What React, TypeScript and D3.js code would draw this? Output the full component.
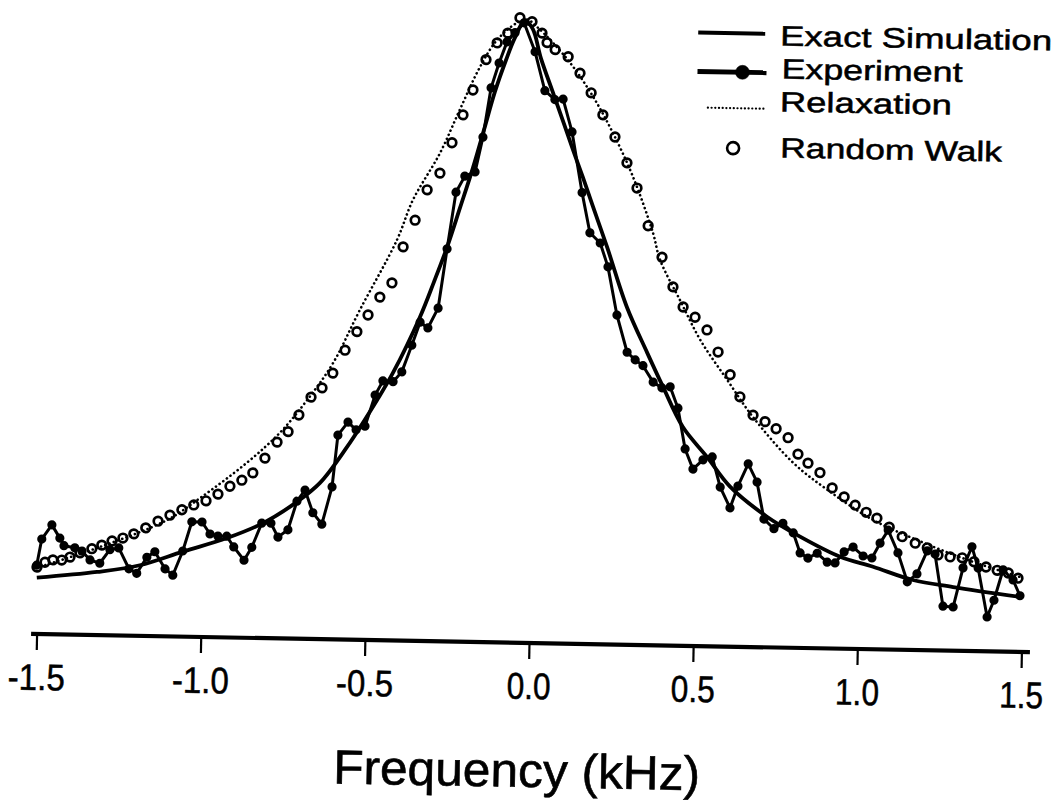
import React from 'react';
import * as d3 from 'd3';

type P = [number, number];

const tickValues = [-1.5, -1.0, -0.5, 0.0, 0.5, 1.0, 1.5];
const tickLabels = ['-1.5', '-1.0', '-0.5', '0.0', '0.5', '1.0', '1.5'];
const xTitle = 'Frequency (kHz)';
const legendLabels = ['Exact Simulation', 'Experiment', 'Relaxation', 'Random Walk'];

// [frequency kHz, relative intensity]
const exactSim: P[] = [
  [-1.504, 0.090], [-1.321, 0.101], [-1.191, 0.113], [-1.061, 0.136], [-0.927, 0.159],
  [-0.818, 0.184], [-0.716, 0.219], [-0.647, 0.250], [-0.567, 0.308], [-0.478, 0.384],
  [-0.431, 0.428], [-0.352, 0.518], [-0.311, 0.575], [-0.273, 0.631], [-0.236, 0.694],
  [-0.199, 0.758], [-0.167, 0.820], [-0.136, 0.881], [-0.104, 0.932], [-0.078, 0.968],
  [-0.048, 0.996], [-0.024, 0.982], [0.002, 0.936], [0.038, 0.885], [0.073, 0.836],
  [0.105, 0.790], [0.137, 0.746], [0.169, 0.700], [0.214, 0.636], [0.278, 0.540],
  [0.342, 0.468], [0.392, 0.414], [0.455, 0.350], [0.530, 0.303], [0.602, 0.256],
  [0.716, 0.209], [0.818, 0.178], [0.941, 0.147], [1.042, 0.132], [1.164, 0.112],
  [1.287, 0.102], [1.492, 0.088],
];

const relaxation: P[] = [
  [-1.504, 0.106], [-1.314, 0.141], [-1.111, 0.186], [-1.012, 0.222], [-0.871, 0.280],
  [-0.772, 0.329], [-0.691, 0.382], [-0.614, 0.442], [-0.535, 0.528], [-0.426, 0.641],
  [-0.380, 0.705], [-0.300, 0.781], [-0.242, 0.851], [-0.183, 0.920], [-0.132, 0.964],
  [-0.072, 0.992], [-0.040, 0.997], [-0.012, 0.986], [0.038, 0.961], [0.101, 0.923],
  [0.163, 0.876], [0.226, 0.818], [0.289, 0.749], [0.353, 0.660], [0.376, 0.617],
  [0.439, 0.553], [0.503, 0.490], [0.587, 0.427], [0.668, 0.368], [0.793, 0.296],
  [0.898, 0.254], [1.039, 0.207], [1.175, 0.176], [1.328, 0.146], [1.490, 0.120],
];

const randomWalk: P[] = [
  [-1.504, 0.107], [-1.480, 0.115], [-1.456, 0.119], [-1.429, 0.119], [-1.404, 0.124],
  [-1.374, 0.131], [-1.338, 0.138], [-1.308, 0.144], [-1.277, 0.151], [-1.244, 0.156],
  [-1.211, 0.163], [-1.175, 0.173], [-1.138, 0.184], [-1.102, 0.194], [-1.066, 0.203],
  [-1.030, 0.211], [-0.993, 0.218], [-0.957, 0.229], [-0.921, 0.242], [-0.885, 0.252],
  [-0.852, 0.264], [-0.816, 0.288], [-0.780, 0.314], [-0.747, 0.331], [-0.715, 0.358],
  [-0.679, 0.387], [-0.646, 0.402], [-0.614, 0.426], [-0.578, 0.463], [-0.543, 0.493],
  [-0.510, 0.520], [-0.475, 0.549], [-0.439, 0.572], [-0.407, 0.630], [-0.372, 0.673],
  [-0.337, 0.722], [-0.299, 0.749], [-0.264, 0.798], [-0.232, 0.843], [-0.203, 0.883],
  [-0.165, 0.932], [-0.132, 0.959], [-0.100, 0.975], [-0.064, 1.000], [-0.027, 0.994],
  [0.004, 0.976], [0.020, 0.961], [0.045, 0.950], [0.085, 0.939], [0.122, 0.913],
  [0.157, 0.882], [0.194, 0.847], [0.232, 0.812], [0.270, 0.771], [0.302, 0.731],
  [0.338, 0.671], [0.382, 0.621], [0.417, 0.574], [0.449, 0.542], [0.486, 0.526],
  [0.523, 0.506], [0.558, 0.471], [0.596, 0.435], [0.627, 0.400], [0.668, 0.371],
  [0.705, 0.361], [0.739, 0.350], [0.776, 0.336], [0.807, 0.310], [0.838, 0.296],
  [0.875, 0.281], [0.913, 0.257], [0.950, 0.243], [0.984, 0.230], [1.018, 0.219],
  [1.051, 0.210], [1.089, 0.196], [1.129, 0.181], [1.169, 0.171], [1.206, 0.164],
  [1.239, 0.153], [1.276, 0.150], [1.313, 0.149], [1.349, 0.143], [1.386, 0.135],
  [1.420, 0.130], [1.454, 0.126], [1.484, 0.118],
];

const experiment: P[] = [
  [-1.505, 0.110], [-1.491, 0.152], [-1.461, 0.175], [-1.436, 0.154], [-1.423, 0.142],
  [-1.390, 0.139], [-1.368, 0.134], [-1.343, 0.120], [-1.313, 0.115], [-1.283, 0.137],
  [-1.256, 0.140], [-1.224, 0.107], [-1.200, 0.100], [-1.170, 0.126], [-1.146, 0.135],
  [-1.114, 0.108], [-1.090, 0.098], [-1.061, 0.137], [-1.035, 0.184], [-1.004, 0.184],
  [-0.979, 0.165], [-0.955, 0.162], [-0.928, 0.162], [-0.906, 0.145], [-0.874, 0.124],
  [-0.851, 0.145], [-0.822, 0.184], [-0.794, 0.184], [-0.772, 0.162], [-0.742, 0.174],
  [-0.716, 0.220], [-0.692, 0.238], [-0.667, 0.202], [-0.639, 0.184], [-0.610, 0.244],
  [-0.595, 0.327], [-0.565, 0.348], [-0.540, 0.336], [-0.513, 0.342], [-0.484, 0.392],
  [-0.461, 0.415], [-0.430, 0.414], [-0.404, 0.430], [-0.375, 0.473], [-0.351, 0.510],
  [-0.327, 0.501], [-0.297, 0.533], [-0.273, 0.628], [-0.249, 0.719], [-0.223, 0.745],
  [-0.192, 0.752], [-0.170, 0.808], [-0.148, 0.887], [-0.125, 0.927], [-0.102, 0.961],
  [-0.078, 0.976], [-0.051, 0.992], [-0.016, 0.946], [0.016, 0.884], [0.047, 0.870],
  [0.072, 0.871], [0.101, 0.819], [0.135, 0.722], [0.161, 0.658], [0.193, 0.642],
  [0.218, 0.604], [0.248, 0.527], [0.281, 0.468], [0.306, 0.456], [0.330, 0.447],
  [0.362, 0.421], [0.389, 0.412], [0.414, 0.414], [0.439, 0.380], [0.463, 0.315],
  [0.488, 0.283], [0.518, 0.298], [0.546, 0.303], [0.572, 0.255], [0.603, 0.222],
  [0.626, 0.257], [0.656, 0.293], [0.684, 0.264], [0.707, 0.205], [0.738, 0.190],
  [0.765, 0.199], [0.797, 0.184], [0.819, 0.152], [0.843, 0.144], [0.871, 0.152],
  [0.902, 0.138], [0.926, 0.137], [0.953, 0.155], [0.980, 0.163], [1.011, 0.149],
  [1.038, 0.146], [1.062, 0.170], [1.086, 0.191], [1.117, 0.155], [1.147, 0.109],
  [1.176, 0.122], [1.206, 0.159], [1.230, 0.154], [1.257, 0.071], [1.288, 0.070],
  [1.316, 0.133], [1.342, 0.167], [1.362, 0.133], [1.392, 0.055], [1.412, 0.082],
  [1.438, 0.131], [1.469, 0.115], [1.491, 0.090],
];

export default function App() {
  const W = 1058;
  const H = 802;
  const x = d3.scaleLinear().domain([-1.5, 1.5]).range([37, 1022]);
  const y = d3.scaleLinear().domain([0, 1]).range([643, 18]);
  const axisY = y(0);
  const smooth = d3
    .line<P>()
    .x((d) => x(d[0]))
    .y((d) => y(d[1]))
    .curve(d3.curveCatmullRom.alpha(0.5));
  const straight = d3
    .line<P>()
    .x((d) => x(d[0]))
    .y((d) => y(d[1]));
  const font = "'Liberation Sans', Arial, Helvetica, sans-serif";
  const [x0, x1] = x.range();

  return (
    <svg
      width={W}
      height={H}
      style={{ position: 'absolute', left: 0, top: 0 }}
      fontFamily={font}
    >
      <rect width={W} height={H} fill="#fff" />
      <g transform="rotate(1.05, 529, 643)">
        {/* axis */}
        <line x1={x0 - 6} x2={x1 + 8} y1={axisY} y2={axisY} stroke="#000" strokeWidth={4.2} />
        {tickValues.map((t, i) => (
          <g key={i}>
            <line x1={x(t)} x2={x(t)} y1={axisY + 2} y2={axisY + 16} stroke="#000" strokeWidth={2.2} />
            <text
              x={x(t)}
              y={axisY + 56}
              textAnchor="middle"
              fontSize={37}
              textLength={t < 0 ? 57 : 44}
              lengthAdjust="spacingAndGlyphs"
              fill="#000"
              stroke="#000"
              strokeWidth={0.5}
            >
              {tickLabels[i]}
            </text>
          </g>
        ))}
        <text
          x={(x0 + x1) / 2 - 10.5}
          y={axisY + 144}
          textAnchor="middle"
          fontSize={48}
          textLength={367}
          lengthAdjust="spacingAndGlyphs"
          fill="#000"
          stroke="#000"
          strokeWidth={0.6}
        >
          {xTitle}
        </text>

        {/* relaxation dotted */}
        <path
          d={smooth(relaxation) || ''}
          fill="none"
          stroke="#000"
          strokeWidth={2.6}
          strokeDasharray="0.1 4.4"
          strokeLinecap="round"
        />
        {/* exact simulation */}
        <path d={smooth(exactSim) || ''} fill="none" stroke="#000" strokeWidth={3.8} strokeLinejoin="round" />
        {/* experiment */}
        <path d={straight(experiment) || ''} fill="none" stroke="#000" strokeWidth={3} strokeLinejoin="round" />
        {experiment.map((d, i) => (
          <circle key={'e' + i} cx={x(d[0])} cy={y(d[1])} r={4.6} fill="#000" />
        ))}
        {/* random walk */}
        {randomWalk.map((d, i) => (
          <circle key={'r' + i} cx={x(d[0])} cy={y(d[1])} r={4.3} fill="none" stroke="#000" strokeWidth={2.7} />
        ))}

        {/* legend */}
        <g fill="#000" stroke="#000" strokeWidth={0.5}>
          <line x1={687} x2={754} y1={29.5} y2={29.5} stroke="#000" strokeWidth={4} />
          <text x={769} y={41} fontSize={28} textLength={272} lengthAdjust="spacingAndGlyphs">
            {legendLabels[0]}
          </text>
          <line x1={687} x2={756} y1={68.5} y2={68.5} stroke="#000" strokeWidth={4.8} />
          <circle cx={732} cy={68.5} r={7} fill="#000" />
          <text x={771} y={74} fontSize={28} textLength={181} lengthAdjust="spacingAndGlyphs">
            {legendLabels[1]}
          </text>
          <line
            x1={698}
            x2={755}
            y1={104.5}
            y2={104.5}
            stroke="#000"
            strokeWidth={2.2}
            strokeDasharray="0.1 3.6"
            strokeLinecap="round"
          />
          <text x={770} y={107} fontSize={28} textLength={172} lengthAdjust="spacingAndGlyphs">
            {legendLabels[2]}
          </text>
          <circle cx={724} cy={144.5} r={6} fill="none" stroke="#000" strokeWidth={2.6} />
          <text x={771} y={153} fontSize={28} textLength={222} lengthAdjust="spacingAndGlyphs">
            {legendLabels[3]}
          </text>
        </g>
      </g>
    </svg>
  );
}
